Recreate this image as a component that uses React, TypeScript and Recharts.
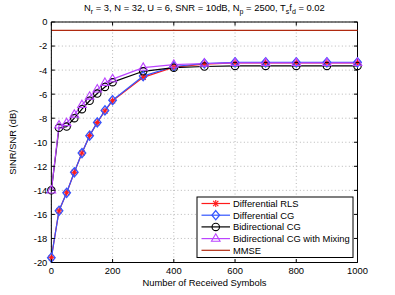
import React from 'react';
import { LineChart, Line, XAxis, YAxis, CartesianGrid, ReferenceLine } from 'recharts';

const W = 395;
const H = 295;
const PLOT_LEFT = 51.35;
const PLOT_RIGHT = 357.5;
const PLOT_TOP = 22;
const PLOT_BOTTOM = 262.5;
const FONT = '"Liberation Sans", Arial, Helvetica, sans-serif';

// ---- data ----
const symbols = [0, 25, 50, 75, 100, 125, 150, 175, 200, 300, 400, 500, 600, 700, 800, 900, 1000];
const differentialRLS = [-19.6, -15.7, -14.2, -12.5, -10.9, -9.45, -8.35, -7.4, -6.55, -4.6, -3.75, -3.5, -3.4, -3.4, -3.4, -3.4, -3.4];
const differentialCG = [-19.6, -15.7, -14.2, -12.5, -10.9, -9.45, -8.35, -7.35, -6.5, -4.5, -3.7, -3.45, -3.35, -3.35, -3.35, -3.35, -3.35];
const bidirectionalCG = [-14.0, -8.8, -8.7, -8.0, -7.25, -6.55, -5.95, -5.4, -5.0, -4.1, -3.8, -3.7, -3.65, -3.65, -3.65, -3.65, -3.65];
const bidirectionalMix = [-14.0, -8.6, -8.4, -7.7, -6.9, -6.2, -5.6, -5.05, -4.75, -3.8, -3.55, -3.45, -3.4, -3.4, -3.4, -3.4, -3.4];
const mmse = [-0.7, -0.7, -0.7, -0.7, -0.7, -0.7, -0.7, -0.7, -0.7, -0.7, -0.7, -0.7, -0.7, -0.7, -0.7, -0.7, -0.7];

const xTicks = [0, 200, 400, 600, 800, 1000];
const yTicks = [-20, -18, -16, -14, -12, -10, -8, -6, -4, -2, 0];

const seriesNames = ['Differential RLS', 'Differential CG', 'Bidirectional CG', 'Bidirectional CG with Mixing', 'MMSE'];

const RED = '#ff1a1a';
const BLUE = '#3355ff';
const BLACK = '#000000';
const PURPLE = '#bb44ff';
const MMSE_C = '#b02a10';

const series = [
  { key: 'rls', name: seriesNames[0], color: RED, marker: 'star', values: differentialRLS },
  { key: 'cg', name: seriesNames[1], color: BLUE, marker: 'diamond', values: differentialCG },
  { key: 'bcg', name: seriesNames[2], color: BLACK, marker: 'circle', values: bidirectionalCG },
  { key: 'mix', name: seriesNames[3], color: PURPLE, marker: 'triangle', values: bidirectionalMix },
  { key: 'mmse', name: seriesNames[4], color: MMSE_C, marker: 'none', values: mmse },
];

const data = symbols.map((s, i) => {
  const row: any = { x: s };
  series.forEach((se) => {
    row[se.key] = se.values[i];
  });
  return row;
});

function Marker({ type, cx, cy, color }: { type: string; cx: number; cy: number; color: string }) {
  if (cx == null || cy == null || isNaN(cx) || isNaN(cy)) return <g />;
  const sw = 1.1;
  if (type === 'star') {
    const r = 3.6;
    const d = r * 0.72;
    return (
      <g stroke={color} strokeWidth={sw}>
        <line x1={cx - r} y1={cy} x2={cx + r} y2={cy} />
        <line x1={cx} y1={cy - r} x2={cx} y2={cy + r} />
        <line x1={cx - d} y1={cy - d} x2={cx + d} y2={cy + d} />
        <line x1={cx - d} y1={cy + d} x2={cx + d} y2={cy - d} />
      </g>
    );
  }
  if (type === 'diamond') {
    return (
      <polygon
        points={`${cx},${cy - 4.6} ${cx + 3.8},${cy} ${cx},${cy + 4.6} ${cx - 3.8},${cy}`}
        fill="none"
        stroke={color}
        strokeWidth={sw + 0.2}
      />
    );
  }
  if (type === 'circle') {
    return <circle cx={cx} cy={cy} r={3.7} fill="none" stroke={color} strokeWidth={sw} />;
  }
  if (type === 'triangle') {
    return (
      <polygon
        points={`${cx},${cy - 4.8} ${cx + 4.3},${cy + 2.6} ${cx - 4.3},${cy + 2.6}`}
        fill="none"
        stroke={color}
        strokeWidth={sw}
      />
    );
  }
  return <g />;
}

const makeDot = (type: string, color: string) => (p: any) => (
  <Marker key={`${type}-${p.index}`} type={type} cx={p.cx} cy={p.cy} color={color} />
);

const XTick = (props: any) => {
  const { x, payload } = props;
  return (
    <g>
      <line x1={x} x2={x} y1={PLOT_BOTTOM} y2={PLOT_BOTTOM - 3.5} stroke="#000" strokeWidth={1} />
      <line x1={x} x2={x} y1={PLOT_TOP} y2={PLOT_TOP + 3.5} stroke="#000" strokeWidth={1} />
      <text x={x} y={PLOT_BOTTOM + 11} textAnchor="middle" fontSize={9.4} fontFamily={FONT} fill="#000">
        {payload.value}
      </text>
    </g>
  );
};

const YTick = (props: any) => {
  const { y, payload } = props;
  return (
    <g>
      <line x1={PLOT_LEFT} x2={PLOT_LEFT + 3.5} y1={y} y2={y} stroke="#000" strokeWidth={1} />
      <line x1={PLOT_RIGHT} x2={PLOT_RIGHT - 3.5} y1={y} y2={y} stroke="#000" strokeWidth={1} />
      <text x={PLOT_LEFT - 4} y={y + 3.4} textAnchor="end" fontSize={9.4} fontFamily={FONT} fill="#000">
        {payload.value}
      </text>
    </g>
  );
};

const LEG_X = 197;
const LEG_Y = 197;
const LEG_W = 156;
const LEG_H = 60.5;
const LEG_ROW0 = 203.5;
const LEG_DY = 11.7;

export default function App() {
  return (
    <div style={{ position: 'absolute', left: 0, top: 0, width: W, height: H, background: '#fff' }}>
      <LineChart
        width={W}
        height={H}
        data={data}
        margin={{ top: PLOT_TOP, right: W - PLOT_RIGHT, bottom: 0, left: 0 }}
      >
        <CartesianGrid stroke="#b0b0b0" strokeDasharray="1 2.5" strokeWidth={0.9} />
        <XAxis
          dataKey="x"
          type="number"
          domain={[0, 1000]}
          ticks={xTicks}
          interval={0}
          height={H - PLOT_BOTTOM}
          tickSize={0}
          tickMargin={0}
          tickLine={false}
          axisLine={{ stroke: '#000', strokeWidth: 1 }}
          tick={XTick}
        />
        <YAxis
          type="number"
          domain={[-20, 0]}
          ticks={yTicks}
          interval={0}
          width={PLOT_LEFT}
          tickSize={0}
          tickMargin={0}
          tickLine={false}
          axisLine={{ stroke: '#000', strokeWidth: 1 }}
          tick={YTick}
        />
        <ReferenceLine y={0} stroke="#000" strokeWidth={1} />
        <ReferenceLine x={1000} stroke="#000" strokeWidth={1} />
        {series.map((se) => (
          <Line
            key={se.key}
            dataKey={se.key}
            name={se.name}
            type="linear"
            stroke={se.color}
            strokeWidth={1.2}
            dot={se.marker === 'none' ? false : makeDot(se.marker, se.color)}
            activeDot={false}
            isAnimationActive={false}
          />
        ))}
      </LineChart>
      <svg
        width={W}
        height={H}
        style={{ position: 'absolute', left: 0, top: 0, pointerEvents: 'none' }}
        fontFamily={FONT}
      >
        <text x={(PLOT_LEFT + PLOT_RIGHT) / 2} y={11} textAnchor="middle" fontSize={9.4} fill="#000">
          N<tspan dy={2.6} fontSize={7}>r</tspan>
          <tspan dy={-2.6}> = 3, N = 32, U = 6, SNR = 10dB, N</tspan>
          <tspan dy={2.6} fontSize={7}>p</tspan>
          <tspan dy={-2.6}> = 2500, T</tspan>
          <tspan dy={2.6} fontSize={7}>s</tspan>
          <tspan dy={-2.6}>f</tspan>
          <tspan dy={2.6} fontSize={7}>d</tspan>
          <tspan dy={-2.6}> = 0.02</tspan>
        </text>
        <text x={(PLOT_LEFT + PLOT_RIGHT) / 2} y={285.5} textAnchor="middle" fontSize={9.4} fill="#000">
          Number of Received Symbols
        </text>
        <text
          transform={`translate(15.5,${(PLOT_TOP + PLOT_BOTTOM) / 2}) rotate(-90)`}
          textAnchor="middle"
          fontSize={9.4}
          fill="#000"
        >
          SINR/SNR (dB)
        </text>
        <rect x={LEG_X} y={LEG_Y} width={LEG_W} height={LEG_H} fill="#fff" stroke="#000" strokeWidth={1} />
        {series.map((se, i) => {
          const cy = LEG_ROW0 + i * LEG_DY;
          return (
            <g key={se.key}>
              <line x1={201.5} x2={230} y1={cy} y2={cy} stroke={se.color} strokeWidth={1.2} />
              <Marker type={se.marker} cx={215.75} cy={cy} color={se.color} />
              <text x={233} y={cy + 3.3} fontSize={9.4} fill="#000">
                {se.name}
              </text>
            </g>
          );
        })}
      </svg>
    </div>
  );
}
